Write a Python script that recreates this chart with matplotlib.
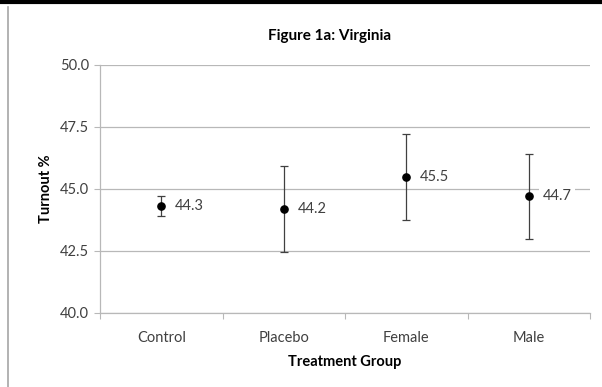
import matplotlib
matplotlib.use("Agg")
import matplotlib.pyplot as plt
from matplotlib.lines import Line2D

# Data
groups = ["Control", "Placebo", "Female", "Male"]
turnout = [44.3, 44.2, 45.5, 44.7]
err = [0.4, 1.74, 1.73, 1.73]
yticks = [40.0, 42.5, 45.0, 47.5, 50.0]

TXT = "#404040"
GRID = "#b8b8b8"
FONT = ["Lato", "DejaVu Sans"]

plt.rcParams["font.family"] = FONT

fig = plt.figure(figsize=(6.02, 3.87), dpi=100)
ax = fig.add_axes([100 / 602, 1 - 313 / 387, 490 / 602, 248 / 387])

x = list(range(len(groups)))
ax.errorbar(x, turnout, yerr=err, fmt="o", color="black", ecolor="#404040",
            elinewidth=0.9, capsize=3, capthick=0.9, markersize=5.2, zorder=3)

for xi, v in zip(x, turnout):
    ax.annotate(f"{v:.1f}", (xi, v), xytext=(10, 0), textcoords="offset points",
                ha="left", va="center", fontsize=10.5, color=TXT,
                bbox=dict(boxstyle="square,pad=0.25", fc="white", ec="none"),
                zorder=4)

ax.set_xlim(-0.5, len(groups) - 0.5)
ax.set_ylim(40, 50)
ax.set_yticks(yticks)
ax.set_yticklabels([f"{t:.1f}" for t in yticks], color=TXT, fontsize=10.5)
ax.set_xticks([i + 0.5 for i in range(-1, len(groups))])
ax.set_xticklabels([])
ax.set_xticks(x, minor=True)
ax.set_xticklabels(groups, minor=True, color=TXT, fontsize=10.5)
ax.tick_params(axis="x", which="minor", length=0, pad=13)
ax.tick_params(axis="x", which="major", length=4, color=GRID, direction="out")
ax.tick_params(axis="y", length=4, color=GRID, pad=4)

ax.yaxis.grid(True, color=GRID, linewidth=0.9)
ax.set_axisbelow(True)
for s in ["top", "right"]:
    ax.spines[s].set_visible(False)
for s in ["left", "bottom"]:
    ax.spines[s].set_color(GRID)
    ax.spines[s].set_linewidth(0.9)

ax.set_ylabel("Turnout %", fontsize=10.5, fontweight="bold", color="black", labelpad=5)
ax.set_xlabel("Treatment Group", fontsize=10.5, fontweight="bold", color="black", labelpad=7)
fig.text(330 / 602, 1 - 36 / 387, "Figure 1a: Virginia", ha="center", va="center",
         fontsize=11, fontweight="bold", color="black")

# frame pieces of the original chart
fig.add_artist(Line2D([0, 1], [1 - 2 / 387, 1 - 2 / 387], color="black", linewidth=3,
                      transform=fig.transFigure))
fig.add_artist(Line2D([8 / 602, 8 / 602], [0, 1 - 7 / 387], color="#a6a6a6", linewidth=1.2,
                      transform=fig.transFigure))

fig.savefig("out.png", dpi=100)
